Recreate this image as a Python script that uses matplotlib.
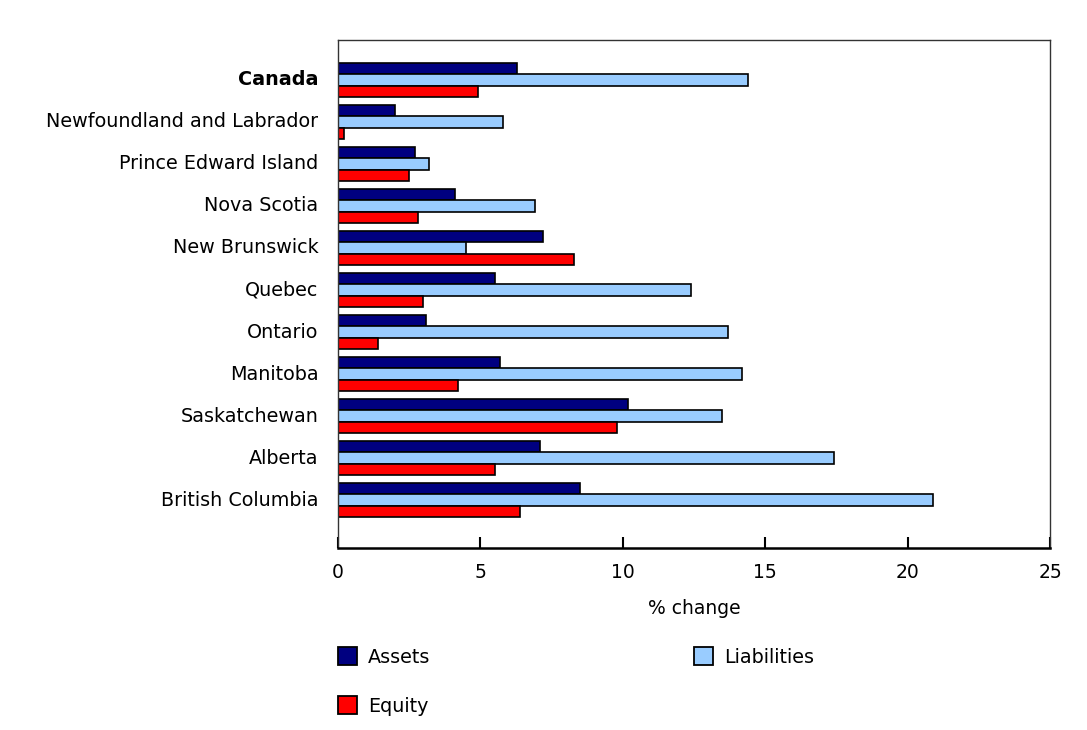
import matplotlib
matplotlib.use("Agg")
import matplotlib.pyplot as plt
import numpy as np
from matplotlib.patches import Patch

regions = ["Canada", "Newfoundland and Labrador", "Prince Edward Island", "Nova Scotia",
           "New Brunswick", "Quebec", "Ontario", "Manitoba", "Saskatchewan", "Alberta",
           "British Columbia"]
assets = [6.3, 2.0, 2.7, 4.1, 7.2, 5.5, 3.1, 5.7, 10.2, 7.1, 8.5]
liabilities = [14.4, 5.8, 3.2, 6.9, 4.5, 12.4, 13.7, 14.2, 13.5, 17.4, 20.9]
equity = [4.9, 0.2, 2.5, 2.8, 8.3, 3.0, 1.4, 4.2, 9.8, 5.5, 6.4]
xticks = [0, 5, 10, 15, 20, 25]

plt.rcParams['font.family'] = ['DejaVu Sans']
fig = plt.figure(figsize=(10.87, 7.30), dpi=100)
ax = fig.add_axes([338/1087, 1-548/730, (1050-338)/1087, (548-40)/730])

y = np.arange(len(regions))
h = 0.275
cols = ["#000080", "#99ccff", "#ff0000"]
names = ["Assets", "Liabilities", "Equity"]
for i, (vals, c) in enumerate(zip([assets, liabilities, equity], cols)):
    ax.barh(y + (i - 1) * h, vals, height=h, color=c, edgecolor="black", linewidth=1.2)

ax.set_ylim(11.14, -0.95)
ax.set_xlim(0, 25)
ax.set_yticks(y)
ax.set_yticklabels(regions, fontsize=13.8, va="center")
ax.get_yticklabels()[0].set_fontweight("bold")
ax.tick_params(axis="y", length=0, pad=14)
ax.set_xticks(xticks)
ax.set_xticklabels([str(t) for t in xticks], fontsize=13.5)
ax.tick_params(axis="x", direction="in", length=8, width=1.5, pad=11)
ax.set_xlabel("% change", fontsize=13.5, labelpad=12)
for s in ["top", "right"]:
    ax.spines[s].set_color("#333333")
    ax.spines[s].set_linewidth(1.0)
ax.spines["left"].set_color("#333333")
ax.spines["left"].set_linewidth(1.0)
ax.spines["bottom"].set_linewidth(1.8)

handles = [Patch(facecolor=c, edgecolor="black", linewidth=1.3) for c in cols]
fs = 13.8
kw = dict(frameon=False, fontsize=fs, handlelength=1.0, handleheight=1.0,
          handletextpad=0.55, borderaxespad=0, borderpad=0)
fig.legend([handles[0]], [names[0]], loc="center left", bbox_to_anchor=(338/1087, 1-657/730), **kw)
fig.legend([handles[1]], [names[1]], loc="center left", bbox_to_anchor=(694/1087, 1-657/730), **kw)
fig.legend([handles[2]], [names[2]], loc="center left", bbox_to_anchor=(338/1087, 1-706/730), **kw)

fig.savefig("out.png", dpi=100)
